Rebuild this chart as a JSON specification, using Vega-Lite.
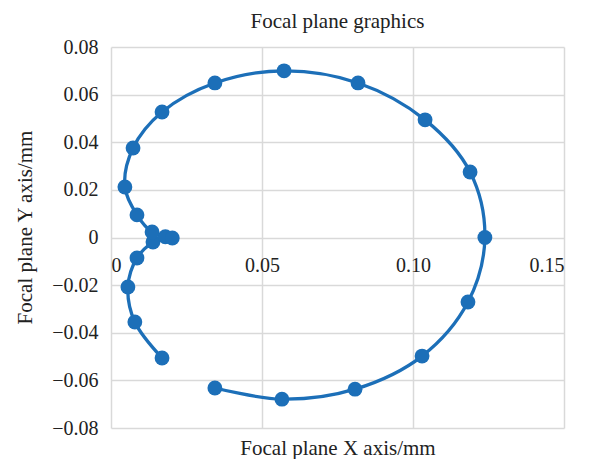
{
  "$schema": "https://vega.github.io/schema/vega-lite/v6.json",
  "width": 453,
  "height": 381,
  "autosize": {"type": "none"},
  "padding": {"left": 111, "top": 47, "right": 25, "bottom": 31},
  "background": "white",
  "title": {"text": "Focal plane graphics", "font": "Liberation Serif", "fontSize": 21, "fontWeight": "normal", "color": "#222", "anchor": "middle", "offset": 5},
  "config": {
    "view": {"stroke": null},
    "axis": {"labelFont": "Liberation Serif", "titleFont": "Liberation Serif", "labelFontSize": 20, "titleFontSize": 21, "titleFontWeight": "normal", "labelColor": "#222", "titleColor": "#222", "gridColor": "#d9d9d9", "gridWidth": 1.5, "domain": false, "ticks": false, "tickSize": 0}
  },
  "data": {"values": [
    {"i": 1, "x": 0.0169, "y": -0.0506},
    {"i": 2, "x": 0.0079, "y": -0.0355},
    {"i": 3, "x": 0.0056, "y": -0.0208},
    {"i": 4, "x": 0.0086, "y": -0.0086},
    {"i": 5, "x": 0.0139, "y": -0.0019},
    {"i": 6, "x": 0.0180, "y": 0.0003},
    {"i": 7, "x": 0.0203, "y": -0.0002},
    {"i": 8, "x": 0.0136, "y": 0.0023},
    {"i": 9, "x": 0.0086, "y": 0.0095},
    {"i": 10, "x": 0.0046, "y": 0.0212},
    {"i": 11, "x": 0.0073, "y": 0.0376},
    {"i": 12, "x": 0.0169, "y": 0.0527},
    {"i": 13, "x": 0.0344, "y": 0.0649},
    {"i": 14, "x": 0.0573, "y": 0.0700},
    {"i": 15, "x": 0.0818, "y": 0.0649},
    {"i": 16, "x": 0.1040, "y": 0.0494},
    {"i": 17, "x": 0.1189, "y": 0.0275},
    {"i": 18, "x": 0.1238, "y": 0.0},
    {"i": 19, "x": 0.1182, "y": -0.0271},
    {"i": 20, "x": 0.1030, "y": -0.0498},
    {"i": 21, "x": 0.0808, "y": -0.0637},
    {"i": 22, "x": 0.0566, "y": -0.0679},
    {"i": 23, "x": 0.0344, "y": -0.0632}
  ]},
  "layer": [
    {
      "mark": {"type": "line", "interpolate": "catmull-rom", "color": "#1c6fb8", "strokeWidth": 3.3},
      "encoding": {
        "x": {"field": "x", "type": "quantitative", "scale": {"domain": [0, 0.15], "nice": false, "zero": false},
              "axis": {"orient": "bottom", "values": [0, 0.05, 0.1, 0.15], "grid": true, "labels": false, "title": "Focal plane X axis/mm", "titlePadding": 9}},
        "y": {"field": "y", "type": "quantitative", "scale": {"domain": [-0.08, 0.08], "nice": false, "zero": false},
              "axis": {"values": [-0.08, -0.06, -0.04, -0.02, 0, 0.02, 0.04, 0.06, 0.08], "grid": true, "labelPadding": 13, "title": "Focal plane Y axis/mm", "titlePadding": 16, "titleY": 180,
                       "labelExpr": "datum.value == 0 ? '0' : format(datum.value, '.2f')"}},
        "order": {"field": "i", "type": "quantitative"}
      }
    },
    {
      "mark": {"type": "point", "filled": true, "opacity": 1, "size": 220, "color": "#1c6fb8"},
      "encoding": {
        "x": {"field": "x", "type": "quantitative", "scale": {"domain": [0, 0.15], "nice": false, "zero": false},
              "axis": {"orient": "bottom", "offset": -190.5, "values": [0, 0.05, 0.1, 0.15], "grid": false, "labelPadding": 18, "title": null,
                       "labelExpr": "datum.value == 0 ? '0' : format(datum.value, '.2f')"}},
        "y": {"field": "y", "type": "quantitative"}
      }
    }
  ],
  "resolve": {"axis": {"x": "independent"}}
}
